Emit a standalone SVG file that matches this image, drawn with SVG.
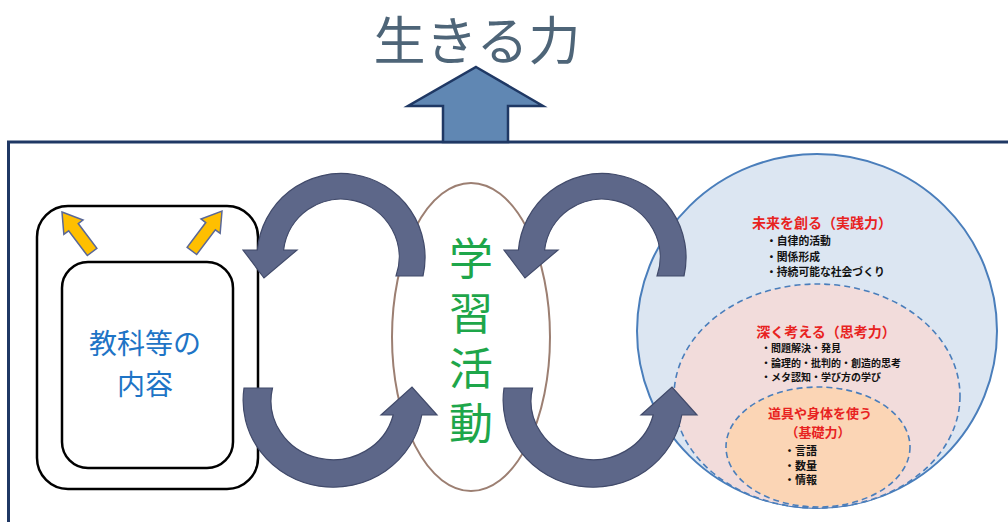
<svg xmlns="http://www.w3.org/2000/svg" width="1008" height="522" viewBox="0 0 1008 522">
<style>
.jp{font-family:"Noto Sans CJK JP","Noto Sans",sans-serif}
.curve{fill:#5d6789;stroke:#414a6a;stroke-width:1.2}
.yel{fill:#ffbf00;stroke:#5a6898;stroke-width:1.5}
.box{fill:#fff;stroke:#000;stroke-width:2.5}
.dash{stroke:#4a7ebb;stroke-width:1.6;stroke-dasharray:6 4}
.head{fill:#e8231f;font-weight:700;text-anchor:middle}
.bul{fill:#111;font-weight:700}
</style>
<rect width="1008" height="522" fill="#fff"/>
<g id="title">
<text class="jp" x="477" y="60" font-size="52" fill="#4e6578" text-anchor="middle">生きる力</text>
</g>
<g id="frame">
<rect x="8.5" y="142" width="1010" height="400" fill="none" stroke="#1f3864" stroke-width="3"/>
</g>
<g id="competencies">
<ellipse cx="817" cy="331" rx="180" ry="177" fill="#dce6f2" stroke="#4a7ebb" stroke-width="2"/>
<ellipse class="dash" cx="817" cy="396" rx="143" ry="112" fill="#f2dcdb"/>
<ellipse class="dash" cx="818" cy="447" rx="92" ry="60" fill="#fbd5b5"/>
<text class="jp head" x="822" y="228" font-size="14">未来を創る（実践力）</text>
<text class="jp bul" x="766" y="245" font-size="10.8">・自律的活動</text>
<text class="jp bul" x="766" y="261" font-size="10.8">・関係形成</text>
<text class="jp bul" x="766" y="276" font-size="10.8">・持続可能な社会づくり</text>
<text class="jp head" x="826" y="337" font-size="14">深く考える（思考力）</text>
<text class="jp bul" x="761" y="352" font-size="10">・問題解決・発見</text>
<text class="jp bul" x="761" y="367" font-size="10">・論理的・批判的・創造的思考</text>
<text class="jp bul" x="761" y="381" font-size="10">・メタ認知・学び方の学び</text>
<text class="jp head" x="820" y="418" font-size="13">道具や身体を使う</text>
<text class="jp head" x="818" y="437" font-size="13">（基礎力）</text>
<text class="jp bul" x="784" y="455" font-size="11">・言語</text>
<text class="jp bul" x="784" y="470" font-size="11">・数量</text>
<text class="jp bul" x="784" y="484" font-size="11">・情報</text>
</g>
<g id="learning">
<ellipse cx="471" cy="337" rx="79" ry="154" fill="none" stroke="#9c7f72" stroke-width="2"/>
<text class="jp" x="471" y="236" font-size="44" fill="#1ea64a" writing-mode="vertical-rl" letter-spacing="11">学習活動</text>
</g>
<g id="subjects">
<rect class="box" x="37" y="206" width="221" height="283" rx="31"/>
<rect class="box" x="62" y="262" width="171" height="206" rx="26"/>
<text class="jp" x="145" y="354" font-size="28" fill="#1e74c6" text-anchor="middle">教科等の</text>
<text class="jp" x="145" y="395" font-size="28" fill="#1e74c6" text-anchor="middle">内容</text>
<polygon class="yel" transform="translate(62,212) rotate(-37)" points="0,0 12,19 6,19 6,50 -6,50 -6,19 -12,19"/>
<polygon class="yel" transform="translate(222,211) rotate(37)" points="0,0 12,19 6,19 6,50 -6,50 -6,19 -12,19"/>
</g>
<g id="connectors">
<path class="curve" d="M423,276 A84,84 0 1 0 257.4,250 L243,250 L264,278 L297,250 L283.6,250 A58,58 0 1 1 396,276 Z"/>
<path class="curve" d="M684,276 A84,84 0 1 0 518.4,250 L504,250 L525,278 L558,250 L544.6,250 A58,58 0 1 1 657,276 Z"/>
<path class="curve" d="M244,388 A90,87 0 0 0 421.8,415 L437,415 L412,387 L381,415 L393.2,415 A62,59 0 0 1 272.5,388 Z"/>
<path class="curve" d="M504,388 A90,87 0 0 0 681.8,415 L697,415 L672,387 L641,415 L653.2,415 A62,59 0 0 1 532.5,388 Z"/>
</g>
<g id="up-arrow">
<polygon points="476,67 543,106 508,106 508,142 443,142 443,106 408,106" fill="#6087b3" stroke="#1f3864" stroke-width="2.5"/>
</g>
</svg>
